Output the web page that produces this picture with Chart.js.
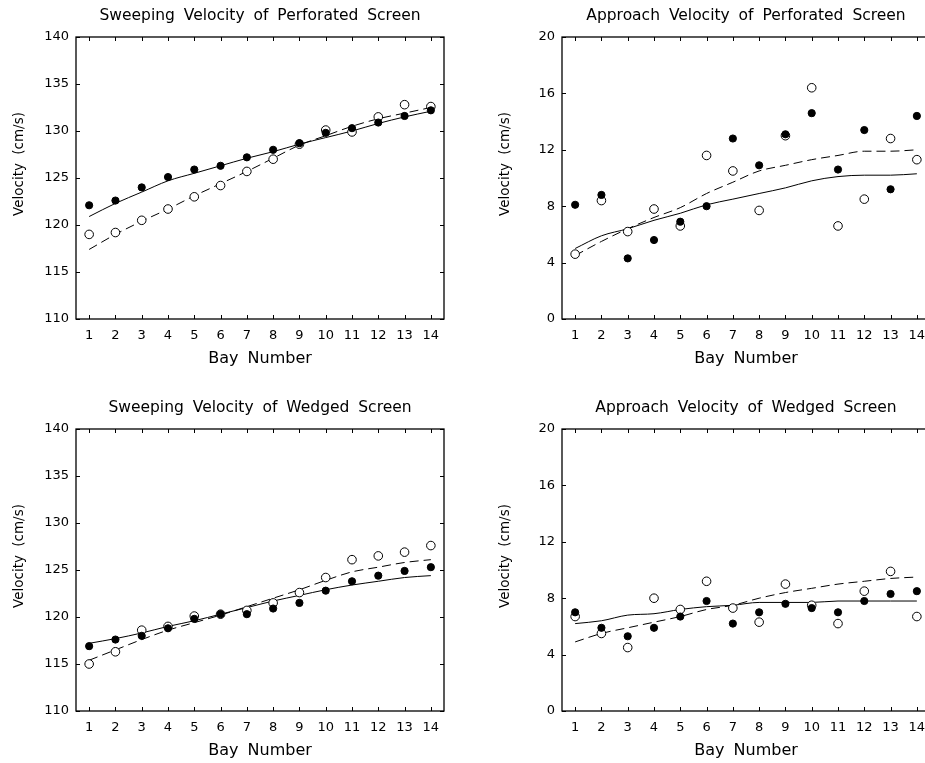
<!DOCTYPE html>
<html>
<head>
<meta charset="utf-8">
<script src="https://cdn.jsdelivr.net/npm/chart.js@4.4.0/dist/chart.umd.min.js"></script>
<style>
  html, body { margin: 0; padding: 0; overflow: hidden; background: #fff; width: 925px; height: 763px; }
  .panel { position: absolute; width: 470px; height: 380px; }
</style>
</head>
<body>
<div class="panel" style="left:0px;top:0px"><canvas id="c1" width="470" height="380"></canvas></div>
<div class="panel" style="left:486px;top:0px"><canvas id="c2" width="470" height="380"></canvas></div>
<div class="panel" style="left:0px;top:392px"><canvas id="c3" width="470" height="380"></canvas></div>
<div class="panel" style="left:486px;top:392px"><canvas id="c4" width="470" height="380"></canvas></div>
<script>
var bays = ['1','2','3','4','5','6','7','8','9','10','11','12','13','14'];

// sweeping velocity, perforated screen
var perfSweepFilled = [122.1,122.6,124.0,125.1,125.9,126.3,127.2,128.0,128.7,129.8,130.3,130.9,131.6,132.2];
var perfSweepOpen   = [119.0,119.2,120.5,121.7,123.0,124.2,125.7,127.0,128.6,130.1,129.9,131.5,132.8,132.6];
var perfSweepSolid  = [120.9,122.3,123.5,124.7,125.5,126.3,127.1,127.8,128.6,129.3,130.0,130.8,131.5,132.1];
var perfSweepDashed = [117.4,119.0,120.4,121.7,123.1,124.4,125.7,127.1,128.5,129.5,130.5,131.3,131.9,132.5];

// approach velocity, perforated screen
var perfApprFilled = [8.1,8.8,4.3,5.6,6.9,8.0,12.8,10.9,13.1,14.6,10.6,13.4,9.2,14.4];
var perfApprOpen   = [4.6,8.4,6.2,7.8,6.6,11.6,10.5,7.7,13.0,16.4,6.6,8.5,12.8,11.3];
var perfApprSolid  = [5.0,5.9,6.4,7.0,7.5,8.1,8.5,8.9,9.3,9.8,10.1,10.2,10.2,10.3];
var perfApprDashed = [4.5,5.5,6.4,7.2,7.9,8.9,9.7,10.5,10.9,11.3,11.6,11.9,11.9,12.0];

// sweeping velocity, wedged screen
var wedgeSweepFilled = [116.9,117.6,118.0,118.8,119.8,120.3,120.3,120.9,121.5,122.8,123.8,124.4,124.9,125.3];
var wedgeSweepOpen   = [115.0,116.3,118.6,119.0,120.1,120.3,120.7,121.5,122.6,124.2,126.1,126.5,126.9,127.6];
var wedgeSweepSolid  = [117.2,117.7,118.3,119.0,119.6,120.3,121.0,121.7,122.3,122.9,123.4,123.8,124.2,124.4];
var wedgeSweepDashed = [115.4,116.5,117.6,118.6,119.4,120.2,121.1,122.0,122.9,123.9,124.8,125.3,125.8,126.1];

// approach velocity, wedged screen
var wedgeApprFilled = [7.0,5.9,5.3,5.9,6.7,7.8,6.2,7.0,7.6,7.3,7.0,7.8,8.3,8.5];
var wedgeApprOpen   = [6.7,5.5,4.5,8.0,7.2,9.2,7.3,6.3,9.0,7.5,6.2,8.5,9.9,6.7];
var wedgeApprSolid  = [6.2,6.4,6.8,6.9,7.2,7.4,7.5,7.7,7.7,7.7,7.8,7.8,7.8,7.8];
var wedgeApprDashed = [4.9,5.5,5.9,6.3,6.7,7.2,7.5,8.0,8.4,8.7,9.0,9.2,9.4,9.5];

var fontFamily = '"DejaVu Sans", Verdana, sans-serif';
Chart.defaults.font.family = fontFamily;
Chart.defaults.color = '#000';

// box around the plot with small inward ticks, the panel title and the y title
var framePlugin = {
  id: 'frame',
  beforeDraw: function(chart) {
    chart.ctx.wordSpacing = '4px';
  },
  afterDraw: function(chart, args, opts) {
    var ctx = chart.ctx, a = chart.chartArea;
    var xs = chart.scales.x, ys = chart.scales.y;
    ctx.save();
    ctx.strokeStyle = '#000';
    ctx.lineWidth = 1.3;
    ctx.strokeRect(a.left, a.top, a.right - a.left, a.bottom - a.top);
    ctx.lineWidth = 1;
    ctx.beginPath();
    for (var i = 0; i < xs.ticks.length; i++) {
      var px = Math.round(xs.getPixelForTick(i)) + 0.5;
      ctx.moveTo(px, a.bottom); ctx.lineTo(px, a.bottom - 4);
      ctx.moveTo(px, a.top); ctx.lineTo(px, a.top + 4);
    }
    for (var j = 0; j < ys.ticks.length; j++) {
      var py = Math.round(ys.getPixelForTick(j)) + 0.5;
      ctx.moveTo(a.left, py); ctx.lineTo(a.left + 4, py);
      ctx.moveTo(a.right, py); ctx.lineTo(a.right - 4, py);
    }
    ctx.stroke();
    ctx.fillStyle = '#000';
    ctx.textAlign = 'center';
    ctx.textBaseline = 'middle';
    ctx.font = '15.5px ' + fontFamily;
    ctx.fillText(opts.text, (a.left + 444) / 2, a.top - 21);
    ctx.translate(19, a.top + 127);
    ctx.rotate(-Math.PI / 2);
    ctx.font = '13.5px ' + fontFamily;
    ctx.fillText(opts.yTitle, 0, 0);
    ctx.restore();
  }
};

function makePanel(id, title, yMin, yMax, yStep, filled, open, solid, dashed) {
  return new Chart(document.getElementById(id), {
    type: 'line',
    data: {
      labels: bays,
      datasets: [
        {data: filled, showLine: false, pointRadius: 3.6, pointBorderWidth: 1,
         pointBackgroundColor: '#000', pointBorderColor: '#000'},
        {data: open, showLine: false, pointRadius: 4.3, pointBorderWidth: 1,
         pointBackgroundColor: '#fff', pointBorderColor: '#000'},
        {data: solid, pointRadius: 0, borderColor: '#000', borderWidth: 1,
         cubicInterpolationMode: 'monotone'},
        {data: dashed, pointRadius: 0, borderColor: '#000', borderWidth: 1,
         borderDash: [9, 5], cubicInterpolationMode: 'monotone'}
      ]
    },
    options: {
      responsive: false,
      animation: false,
      devicePixelRatio: 1,
      layout: {padding: {top: 37, right: 26, left: 0, bottom: 0}},
      plugins: {
        legend: {display: false},
        tooltip: {enabled: false},
        frame: {text: title, yTitle: 'Velocity (cm/s)'}
      },
      scales: {
        x: {
          offset: true,
          grid: {display: false, drawTicks: false},
          border: {display: false},
          ticks: {font: {size: 13}, padding: 9, maxRotation: 0, autoSkip: false},
          title: {display: true, text: 'Bay Number', font: {size: 16}, padding: {top: 0, bottom: 12}},
          afterFit: function(s) { s.height = 61; }
        },
        y: {
          min: yMin, max: yMax,
          grid: {display: false, drawTicks: false},
          border: {display: false},
          ticks: {stepSize: yStep, font: {size: 13}, padding: 7},
          title: {display: false},
          afterFit: function(s) { s.width = 76; }
        }
      }
    },
    plugins: [framePlugin]
  });
}

makePanel('c1', 'Sweeping Velocity of Perforated Screen', 110, 140, 5,
  perfSweepFilled, perfSweepOpen, perfSweepSolid, perfSweepDashed);
makePanel('c2', 'Approach Velocity of Perforated Screen', 0, 20, 4,
  perfApprFilled, perfApprOpen, perfApprSolid, perfApprDashed);
makePanel('c3', 'Sweeping Velocity of Wedged Screen', 110, 140, 5,
  wedgeSweepFilled, wedgeSweepOpen, wedgeSweepSolid, wedgeSweepDashed);
makePanel('c4', 'Approach Velocity of Wedged Screen', 0, 20, 4,
  wedgeApprFilled, wedgeApprOpen, wedgeApprSolid, wedgeApprDashed);
</script>
</body>
</html>
